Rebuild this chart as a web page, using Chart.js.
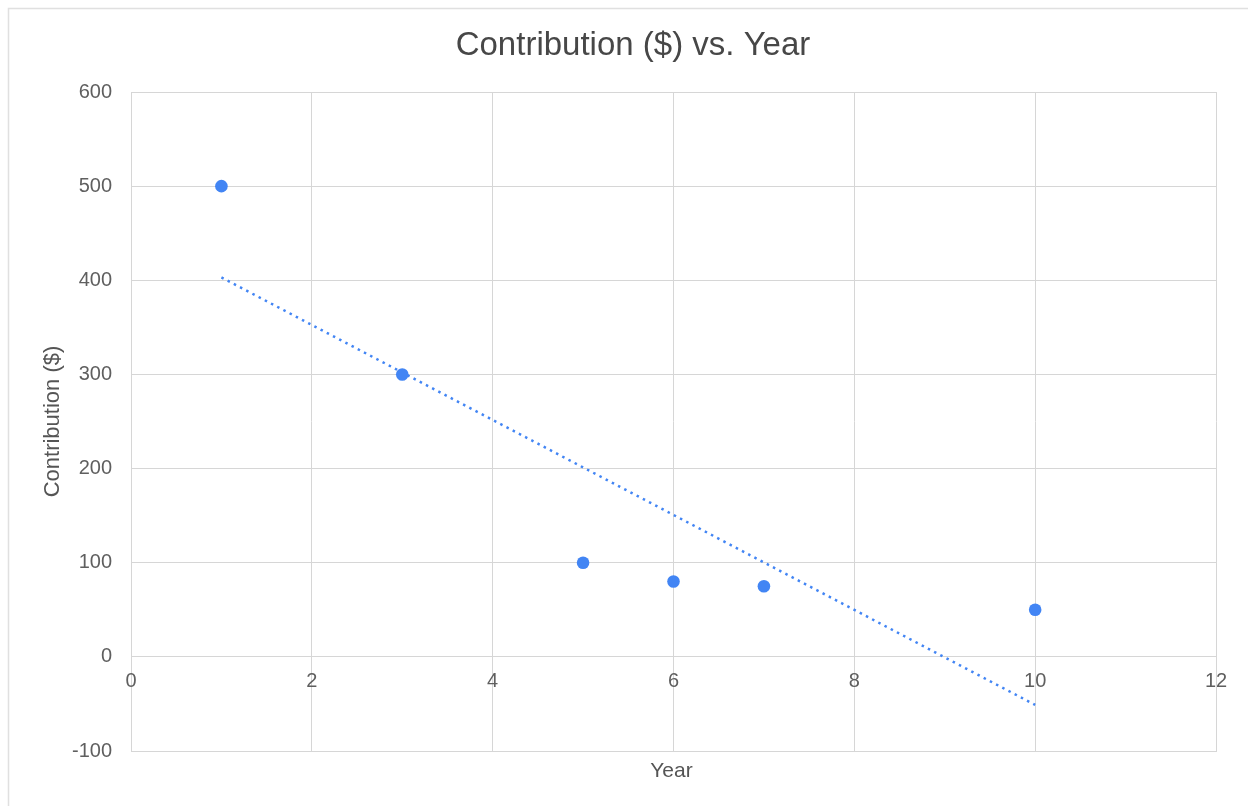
<!DOCTYPE html>
<html>
<head>
<meta charset="utf-8">
<title>Contribution ($) vs. Year</title>
<script src="https://cdn.jsdelivr.net/npm/chart.js@4/dist/chart.umd.min.js"></script>
<style>
  html, body { margin: 0; padding: 0; background: #ffffff; }
  #chart { display: block; }
</style>
</head>
<body>
<canvas id="chart" width="1248" height="806"></canvas>
<script>
// Observed contributions by year
const years = [1, 3, 5, 6, 7, 10];
const contributions = [500, 300, 100, 80, 75, 50];

// Linear trendline end points
const trendYears = [1, 10];
const trendValues = [403, -51];

// Axis ranges and tick steps
const xRange = [0, 12];
const xStep = 2;
const yRange = [-100, 600];
const yStep = 100;

const chartTitle = 'Contribution ($) vs. Year';
const xTitle = 'Year';
const yTitle = 'Contribution ($)';

const FONT = '"Liberation Sans", Arial, Helvetica, sans-serif';
const BLUE = '#4285f4';
const GRID = '#d6d6d6';
const TICK = '#5f5f5f';

// Frame, title, axis titles and x tick labels (x labels sit just under the zero line)
const decorations = {
  id: 'decorations',
  beforeDraw(chart) {
    const ctx = chart.ctx;
    ctx.save();
    ctx.strokeStyle = '#e0e0e0';
    ctx.lineWidth = 1.5;
    ctx.beginPath();
    ctx.moveTo(8.5, chart.height);
    ctx.lineTo(8.5, 8.5);
    ctx.lineTo(chart.width, 8.5);
    ctx.stroke();
    ctx.restore();
  },
  afterDraw(chart) {
    const ctx = chart.ctx;
    const xs = chart.scales.x;
    const ys = chart.scales.y;
    ctx.save();
    ctx.textAlign = 'center';
    ctx.textBaseline = 'middle';

    ctx.fillStyle = '#474747';
    ctx.font = '33px ' + FONT;
    ctx.fillText(chartTitle, 633, 46);

    ctx.fillStyle = '#555555';
    ctx.font = '21px ' + FONT;
    ctx.fillText(xTitle, (chart.chartArea.left + chart.chartArea.right) / 2 - 2, 771);

    ctx.save();
    ctx.translate(53, (chart.chartArea.top + chart.chartArea.bottom) / 2);
    ctx.rotate(-Math.PI / 2);
    ctx.font = '22px ' + FONT;
    ctx.fillText(yTitle, 0, 0);
    ctx.restore();

    ctx.fillStyle = TICK;
    ctx.font = '20px ' + FONT;
    const yZero = ys.getPixelForValue(0);
    xs.ticks.forEach(t => {
      ctx.fillText(String(t.value), xs.getPixelForValue(t.value), yZero + 25);
    });
    ctx.restore();
  }
};

const scatterPoints = years.map((x, i) => ({ x: x, y: contributions[i] }));
const trendPoints = trendYears.map((x, i) => ({ x: x, y: trendValues[i] }));

new Chart(document.getElementById('chart'), {
  type: 'scatter',
  data: {
    datasets: [
      {
        label: 'Contribution ($)',
        data: scatterPoints,
        backgroundColor: BLUE,
        borderColor: BLUE,
        pointRadius: 6.3,
        pointHoverRadius: 6.3,
        borderWidth: 0,
        order: 1
      },
      {
        label: 'Trendline',
        type: 'line',
        data: trendPoints,
        borderColor: BLUE,
        borderWidth: 2.5,
        borderDash: [2.5, 4.5],
        pointRadius: 0,
        fill: false,
        order: 2
      }
    ]
  },
  plugins: [decorations],
  options: {
    responsive: false,
    animation: false,
    layout: { padding: { top: 92, right: 32, bottom: 55, left: 0 } },
    plugins: {
      legend: { display: false },
      title: { display: false },
      tooltip: { enabled: false }
    },
    scales: {
      x: {
        type: 'linear',
        position: 'bottom',
        min: xRange[0],
        max: xRange[1],
        ticks: { stepSize: xStep, display: false },
        grid: { color: GRID, lineWidth: 1, drawTicks: false },
        border: { color: GRID },
        afterFit(scale) { scale.height = 0; }
      },
      y: {
        type: 'linear',
        min: yRange[0],
        max: yRange[1],
        ticks: {
          stepSize: yStep,
          padding: 19,
          color: TICK,
          font: { family: FONT, size: 20 }
        },
        grid: { color: GRID, lineWidth: 1, drawTicks: false },
        border: { color: GRID },
        afterFit(scale) { scale.width = 131; }
      }
    }
  }
});
</script>
</body>
</html>
